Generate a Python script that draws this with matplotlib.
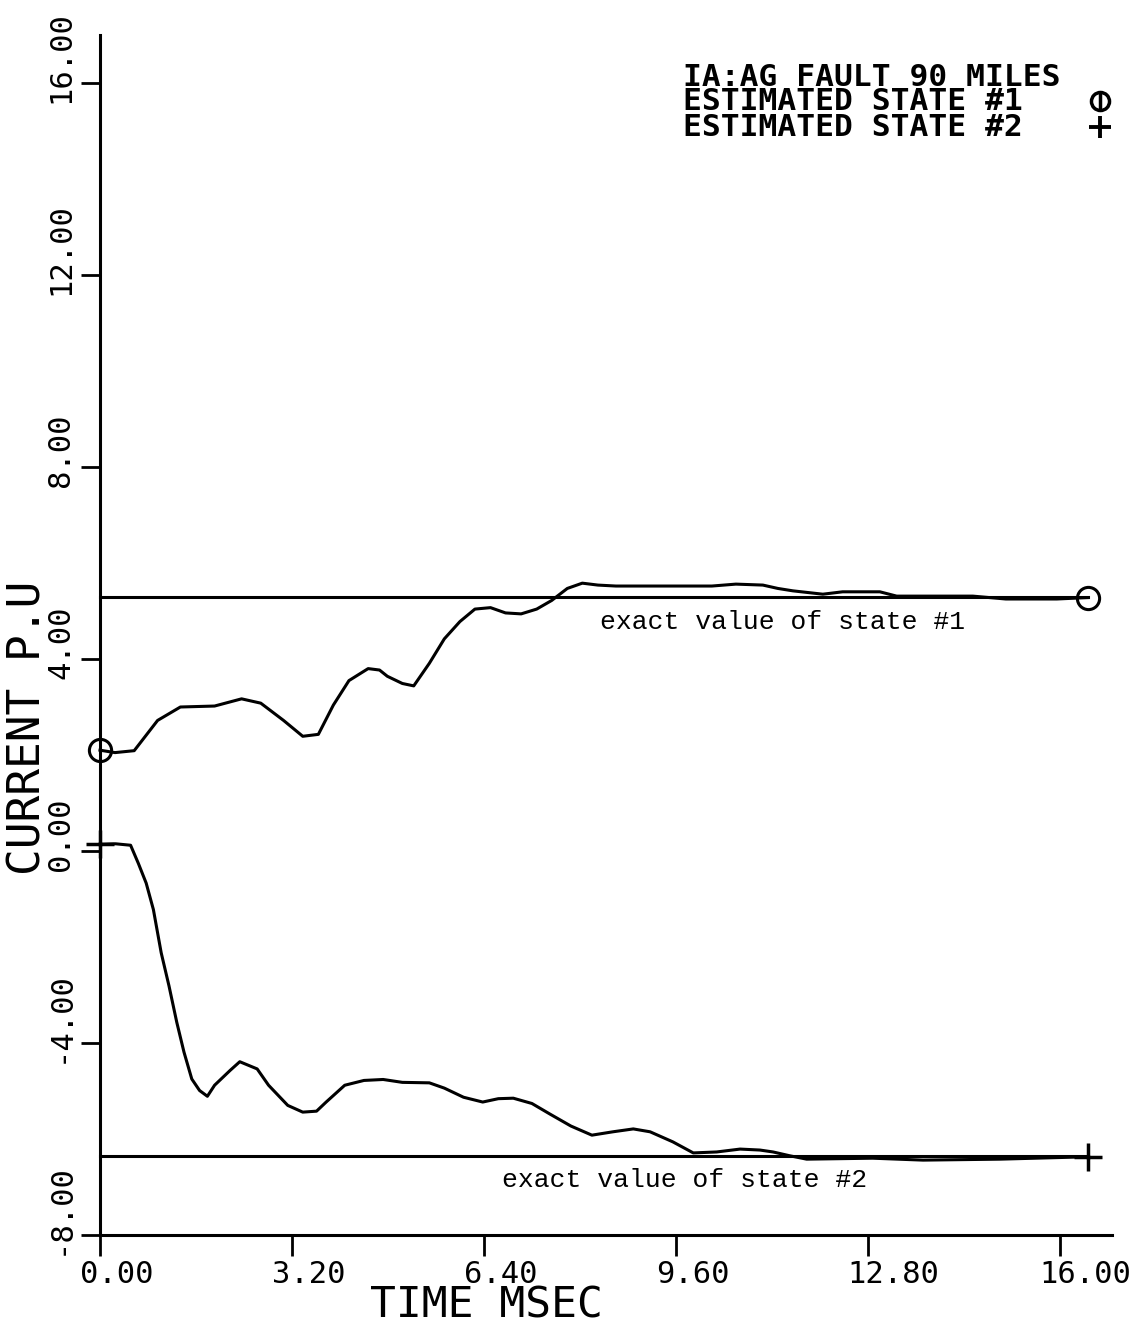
import matplotlib
matplotlib.use("Agg")
import matplotlib.pyplot as plt
from matplotlib.transforms import ScaledTranslation

# estimated state #1 (current, p.u.) vs time (msec)
t_state1 = [0.0, 0.25, 0.57, 0.96, 1.34, 1.91, 2.36, 2.68, 3.06, 3.38, 3.64, 3.89,
            4.15, 4.47, 4.66, 4.79, 5.04, 5.23, 5.49, 5.74, 6.0, 6.25, 6.51, 6.76,
            7.02, 7.28, 7.53, 7.79, 8.04, 8.3, 8.6, 9.1, 9.6, 10.2, 10.6, 11.05,
            11.3, 11.55, 12.05, 12.38, 13.0, 13.28, 14.0, 14.55, 15.1, 15.95, 16.47]
state1 = [2.10, 2.05, 2.09, 2.72, 3.0, 3.02, 3.17, 3.08, 2.72, 2.39, 2.43, 3.04,
          3.55, 3.80, 3.77, 3.64, 3.49, 3.44, 3.91, 4.42, 4.78, 5.04, 5.07, 4.96,
          4.94, 5.04, 5.22, 5.47, 5.58, 5.54, 5.52, 5.52, 5.52, 5.52, 5.56, 5.54,
          5.47, 5.42, 5.35, 5.40, 5.40, 5.31, 5.31, 5.31, 5.25, 5.25, 5.28]

# estimated state #2
t_state2 = [0.0, 0.26, 0.51, 0.64, 0.77, 0.89, 1.02, 1.15, 1.28, 1.40, 1.53, 1.66,
            1.79, 1.91, 2.17, 2.33, 2.62, 2.81, 3.13, 3.38, 3.61, 3.77, 4.08, 4.40,
            4.72, 5.04, 5.49, 5.74, 6.06, 6.38, 6.64, 6.89, 7.2, 7.5, 7.85, 8.2,
            8.55, 8.89, 9.17, 9.55, 9.89, 10.28, 10.67, 11.0, 11.22, 11.5, 11.78,
            12.88, 13.72, 15.0, 16.47]
state2 = [0.14, 0.15, 0.12, -0.26, -0.67, -1.22, -2.12, -2.81, -3.57, -4.19, -4.75, -4.99,
          -5.11, -4.88, -4.57, -4.39, -4.54, -4.88, -5.30, -5.44, -5.42, -5.23, -4.88, -4.78,
          -4.76, -4.82, -4.83, -4.94, -5.13, -5.23, -5.16, -5.15, -5.26, -5.48, -5.73, -5.92,
          -5.85, -5.79, -5.85, -6.06, -6.29, -6.27, -6.21, -6.23, -6.27, -6.35, -6.42,
          -6.40, -6.44, -6.42, -6.37]

exact1 = 5.30
exact2 = -6.35
t_end = 16.47

xticks = [0.0, 3.2, 6.4, 9.6, 12.8, 16.0]
yticks = [-8.0, -4.0, 0.0, 4.0, 8.0, 12.0, 16.0]

legend_lines = ["IA:AG FAULT 90 MILES", "ESTIMATED STATE #1", "ESTIMATED STATE #2"]

MONO = "DejaVu Sans Mono"
TYPE = "Liberation Mono"
LW = 2.2

fig = plt.figure(figsize=(11.42, 13.25), dpi=100)
ax = fig.add_axes([100 / 1142, 1 - 1235 / 1325, 1012 / 1142, 1200 / 1325])

# exact values
ax.plot([0, t_end], [exact1, exact1], color="black", lw=LW, clip_on=False)
ax.plot([0, t_end], [exact2, exact2], color="black", lw=LW, clip_on=False)

# estimates
ax.plot(t_state1, state1, color="black", lw=LW, clip_on=False)
ax.plot(t_state2, state2, color="black", lw=LW, clip_on=False)

# end markers
ax.plot([t_state1[0], t_state1[-1]], [state1[0], state1[-1]], ls="none", marker="o",
        ms=16, mfc="none", mec="black", mew=2.2, clip_on=False)
ax.plot([t_state2[0], t_state2[-1]], [state2[0], state2[-1]], ls="none", marker="+",
        ms=20, mec="black", mew=2.5, clip_on=False)

ax.text(8.33, 4.77, "exact value of state #1", family=TYPE, fontsize=19, va="center", ha="left")
ax.text(6.70, -6.85, "exact value of state #2", family=TYPE, fontsize=19, va="center", ha="left")

# legend block, top right
legend_y = [0.965, 0.945, 0.923]
for txt, yy in zip(legend_lines, legend_y):
    ax.text(0.576, yy, txt, transform=ax.transAxes, family=MONO, fontsize=22.5,
            fontweight="bold", va="center", ha="left")
ax.plot([0.988], [legend_y[1]], transform=ax.transAxes, marker="o", ms=13, mfc="none",
        mec="black", mew=2.5, clip_on=False)
ax.plot([0.988], [legend_y[1]], transform=ax.transAxes, marker="|", ms=13,
        mec="black", mew=2.5, clip_on=False)
ax.plot([0.988], [legend_y[2]], transform=ax.transAxes, marker="+", ms=16,
        mec="black", mew=2.8, clip_on=False)

ax.set_xlim(0, 16.87)
ax.set_ylim(-8, 17)

for side in ("top", "right"):
    ax.spines[side].set_visible(False)
for side in ("left", "bottom"):
    ax.spines[side].set_linewidth(LW)

ax.set_xticks(xticks)
ax.set_xticklabels([f"{v:.2f}" for v in xticks], family=MONO, fontsize=22)
ax.set_yticks(yticks)
ax.set_yticklabels([f"{v:.2f}" for v in yticks], family=MONO, fontsize=22, rotation=90)
ax.tick_params(axis="x", direction="out", length=15, width=2, pad=3)
ax.tick_params(axis="y", direction="out", length=14, width=2, pad=4)

# plotter-style labels: the text starts just before its tick rather than centred on it
shift_x = ScaledTranslation(-0.20, 0, fig.dpi_scale_trans)
for lab in ax.get_xticklabels():
    lab.set_ha("left")
    lab.set_transform(lab.get_transform() + shift_x)
shift_y = ScaledTranslation(0, -0.20, fig.dpi_scale_trans)
for lab in ax.get_yticklabels():
    lab.set_va("bottom")
    lab.set_transform(lab.get_transform() + shift_y)

ax.set_xlabel("TIME MSEC", family=MONO, fontsize=31, va="center")
ax.xaxis.set_label_coords(0.382, -0.059)
ax.set_ylabel("CURRENT P.U", family=MONO, fontsize=32, va="center")
ax.yaxis.set_label_coords(-0.071, 0.423)

fig.savefig("out.png", dpi=100)
